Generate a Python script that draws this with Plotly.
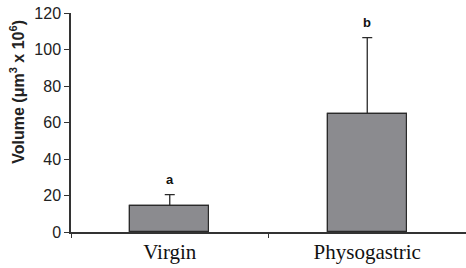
import plotly.graph_objects as go

categories = ["Virgin", "Physogastric"]
means = [14, 64.5]
errors_up = [6.5, 42]
letters = ["a", "b"]
y_ticks = [0, 20, 40, 60, 80, 100, 120]

bar_style = dict(color="#8b8b8f", line=dict(color="#2a2a2a", width=1.2))

fig = go.Figure()
# error bars (lower cap hidden by the bar drawn on top)
fig.add_trace(go.Bar(
    x=categories, y=means, width=0.40, marker=bar_style,
    error_y=dict(type="data", symmetric=False, array=errors_up,
                 color="#2a2a2a", thickness=1.3, width=5),
))
fig.add_trace(go.Bar(x=categories, y=means, width=0.40, marker=bar_style))

for c, m, e, l in zip(categories, means, errors_up, letters):
    fig.add_annotation(x=c, y=m + e, text="<b>" + l + "</b>", showarrow=False,
                       yshift=15, font=dict(family="Arial", size=13, color="#111"))

fig.add_annotation(xref="paper", yref="paper", x=-0.137, y=0.64,
                   xanchor="center", yanchor="middle",
                   text="<b>Volume (μm<sup>3</sup> x 10<sup>6</sup>)</b>",
                   textangle=-90, showarrow=False,
                   font=dict(family="Arial", size=16, color="#222"))

fig.update_layout(
    width=466, height=268,
    margin=dict(l=71, r=0, t=13, b=36),
    plot_bgcolor="white", paper_bgcolor="white",
    showlegend=False,
    barmode="overlay",
    bargap=0,
)
fig.update_xaxes(
    type="category", range=[-0.5, 1.5],
    showline=True, linecolor="#333", linewidth=1.5,
    ticks="outside", tickson="boundaries", ticklen=4, tickcolor="#333",
    tickfont=dict(family="Liberation Serif", size=21, color="#111"),
    showgrid=False,
)
fig.update_yaxes(
    range=[0, 120], tickvals=y_ticks,
    showline=True, linecolor="#333", linewidth=1.5,
    ticks="outside", ticklen=5, tickcolor="#333",
    tickfont=dict(family="Arial", size=16, color="#222"),
    showgrid=False, zeroline=False,
)

fig.write_html("out.html", config={"displayModeBar": False},
               post_script="document.body.style.margin='0';document.body.style.overflow='hidden';")
